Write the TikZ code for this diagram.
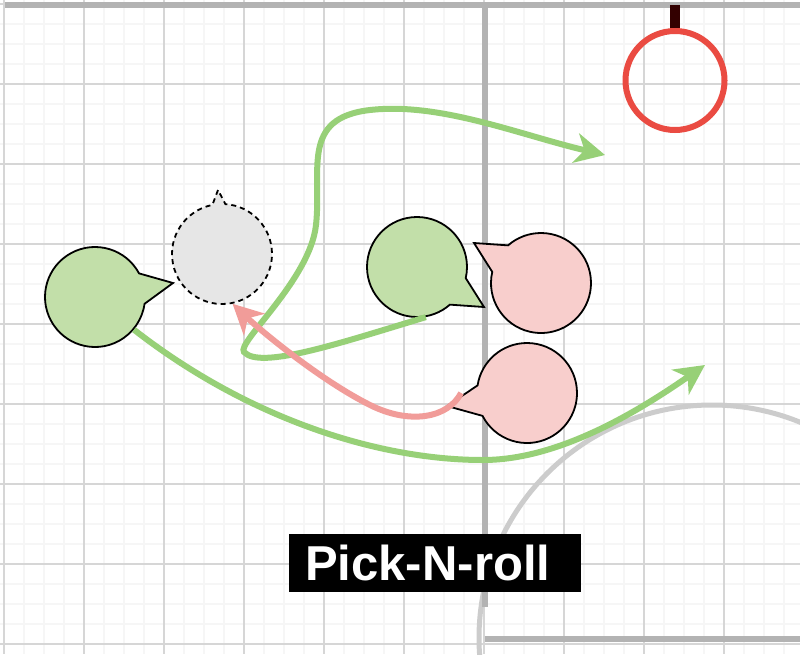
\documentclass[tikz,border=0pt]{standalone}
\usepackage{fontspec}
\setmainfont{Liberation Sans}
\usetikzlibrary{shapes.callouts,arrows.meta}

\definecolor{minorgray}{HTML}{F6F6F6}
\definecolor{majorgray}{HTML}{D6D6D6}
\definecolor{courtgray}{HTML}{B3B3B3}
\definecolor{arcgray}{HTML}{CCCCCC}
\definecolor{hoopred}{HTML}{EA4B42}
\definecolor{postbrown}{HTML}{330000}
\definecolor{offgreen}{HTML}{C2DFA9}
\definecolor{defpink}{HTML}{F8CECC}
\definecolor{ghostgray}{HTML}{E6E6E6}
\definecolor{cutgreen}{HTML}{97D077}
\definecolor{rollpink}{HTML}{F19C99}

\begin{document}
\begin{tikzpicture}[x=1pt,y=-1pt]

    \tikzset{
      player/.style={
        ellipse callout,
        draw=black,
        line width=1.8pt,
        minimum size=100pt,
        inner sep=0pt,
        callout pointer arc=36,
      },
      offense/.style={player,fill=offgreen},
      defense/.style={player,fill=defpink},
      ghost/.style={player,fill=ghostgray,dash pattern=on 5pt off 4pt,callout pointer arc=15},
      cutpath/.style={draw=cutgreen,line width=6pt,-{Stealth[length=30pt,width=30pt,inset=9pt]}},
      rollpath/.style={draw=rollpink,line width=6pt,-{Stealth[length=30pt,width=30pt,inset=9pt]}},
    }
    \useasboundingbox (0,0) rectangle (800,654);
    \clip (0,0) rectangle (800,654);
    \fill[white] (0,0) rectangle (800,654);

    % grid
    \foreach \x in {24,44,...,784} \draw[minorgray,line width=1.6pt] (\x,0)--(\x,654);
    \foreach \y in {24,44,...,644} \draw[minorgray,line width=1.6pt] (0,\y)--(800,\y);
    \foreach \x in {4,84,...,724} \draw[majorgray,line width=1.2pt] (\x,0)--(\x,654);
    \foreach \y in {4,84,...,644} \draw[majorgray,line width=1.2pt] (0,\y)--(800,\y);

    % court
    \draw[arcgray,line width=5pt] (712,638) circle[radius=233];
    \draw[courtgray,line width=5.5pt] (5,5)--(800,5);
    \draw[courtgray,line width=5.5pt] (485,5)--(485,607);
    \draw[courtgray,line width=5.5pt] (485,639)--(800,639);

    % hoop
    \fill[postbrown] (670,5) rectangle (680,30);
    \draw[hoopred,line width=6pt] (675,80.5) circle[radius=49.5];

    % label
    \node[fill=black,text=white,font=\bfseries\fontsize{49}{55}\selectfont,anchor=north west,
      inner xsep=16pt,inner ysep=0pt,text width=260pt,minimum height=58pt,align=left] (title) at (289,534) {Pick-N-roll};

    % players
    \node[offense,callout absolute pointer={(173,283)}] (wing) at (95,297) {};
    \node[ghost,callout absolute pointer={(218,190)}] (spot) at (222,254) {};
    \node[offense,callout absolute pointer={(484,307)}] (screener) at (417,267) {};
    \node[defense,callout absolute pointer={(474,243)}] (guard) at (541,283) {};
    \node[defense,callout absolute pointer={(447,406)}] (helper) at (527,393) {};

    \coordinate (rimcut) at (605,155);
    \coordinate (cornercut) at (705,365);

    % paths
    \draw[cutpath] (screener.-80) .. controls (340,343) and (260,370) .. (244,352)
      .. controls (236,343) and (310,280) .. (316,225)
      .. controls (322,170) and (300,118) .. (370,110)
      .. controls (440,102) and (520,135) .. (rimcut);
    \draw[cutpath] (wing.-40) .. controls (250,420) and (380,460) .. (483,460)
      .. controls (560,460) and (640,410) .. (cornercut);
    \draw[rollpath] ([xshift=-15pt]helper.west) .. controls (448,418) and (410,425) .. (370,405)
      .. controls (320,380) and (260,330) .. (spot.-78);

\end{tikzpicture}
\end{document}
